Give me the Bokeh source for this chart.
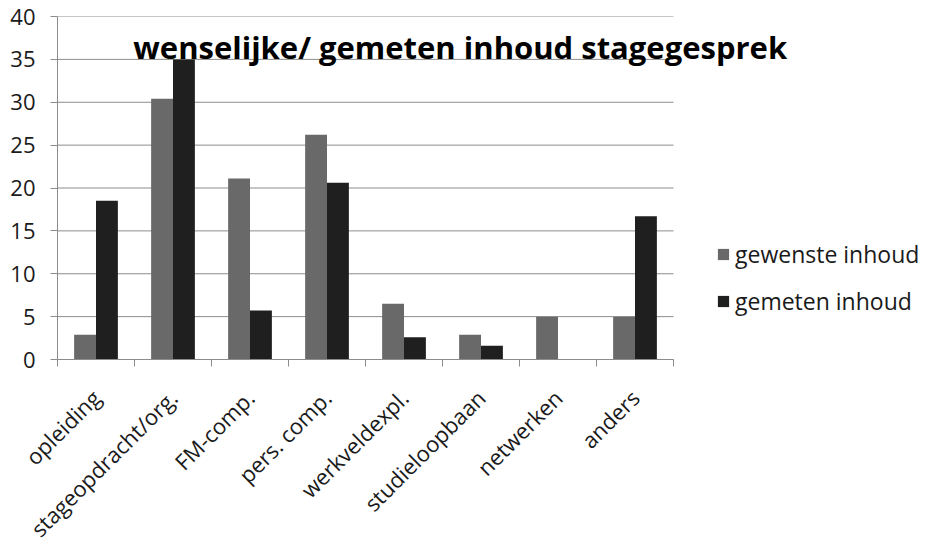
from bokeh.plotting import figure
from bokeh.models import ColumnDataSource, FixedTicker, Range1d, Label, Legend, LegendItem
from bokeh.transform import dodge
from bokeh.embed import file_html
from bokeh.resources import INLINE
import numpy as np

categories = ["opleiding", "stageopdracht/org.", "FM-comp.", "pers. comp.",
              "werkveldexpl.", "studieloopbaan", "netwerken", "anders"]
gewenste = [2.9, 30.4, 21.1, 26.2, 6.5, 2.9, 5.0, 5.0]
gemeten = [18.5, 35.0, 5.7, 20.6, 2.6, 1.6, 0.0, 16.7]
y_ticks = [0, 5, 10, 15, 20, 25, 30, 35, 40]
series_names = ["gewenste inhoud", "gemeten inhoud"]
title_text = "wenselijke/ gemeten inhoud stagegesprek"

FONT = "Open Sans"
GRAY = "#696969"
BLACK = "#1f1f1f"
LINE = "#8c8c8c"
TEXT = "#1a1a1a"

n = len(categories)
centers = list(np.arange(n) + 0.5)
src = ColumnDataSource(dict(x=centers, g=gewenste, m=gemeten))
grid_src = ColumnDataSource(dict(y=y_ticks, x0=[0] * len(y_ticks), x1=[n] * len(y_ticks)))

PLOT_W = 616      # pixels covered by the categories
FRAME_W = 868     # frame extended to the right to host the title and legend
x_end = n * FRAME_W / PLOT_W

p = figure(frame_width=FRAME_W, frame_height=343, min_border_left=57, min_border_top=16,
           min_border_right=0, min_border_bottom=178,
           x_range=Range1d(0, x_end), y_range=Range1d(0, 40),
           output_backend="svg", toolbar_location=None, tools="")
p.outline_line_color = None
p.xgrid.grid_line_color = None
p.ygrid.grid_line_color = None

# horizontal gridlines, limited to the category area
p.segment(x0="x0", x1="x1", y0="y", y1="y", source=grid_src, line_color=LINE, line_width=1)

bw = 0.284
r1 = p.vbar(x=dodge("x", -bw / 2, range=p.x_range), top="g", width=bw, source=src,
            fill_color=GRAY, line_color=None)
r2 = p.vbar(x=dodge("x", bw / 2, range=p.x_range), top="m", width=bw, source=src,
            fill_color=BLACK, line_color=None)

xa = p.xaxis[0]
xa.bounds = (0, n)
xa.ticker = FixedTicker(ticks=centers, minor_ticks=list(range(n + 1)))
xa.major_label_overrides = {c: lab for c, lab in zip(centers, categories)}
xa.major_tick_line_color = None
xa.minor_tick_line_color = LINE
xa.minor_tick_out = 7
xa.minor_tick_in = 0
xa.axis_line_color = LINE
xa.major_label_orientation = np.pi / 4
xa.major_label_text_font = FONT
xa.major_label_text_font_size = "22px"
xa.major_label_text_color = TEXT
xa.major_label_standoff = 27

ya = p.yaxis[0]
ya.ticker = FixedTicker(ticks=y_ticks)
ya.axis_line_color = LINE
ya.major_tick_line_color = LINE
ya.major_tick_out = 7
ya.major_tick_in = 0
ya.minor_tick_line_color = None
ya.major_label_text_font = FONT
ya.major_label_text_font_size = "22px"
ya.major_label_text_color = TEXT
ya.major_label_standoff = 15

title = Label(x=5.23, y=36.4, text=title_text, text_align="center",
              text_baseline="alphabetic", text_font=FONT, text_font_style="bold",
              text_font_size="31px", text_color="#000000")
p.add_layout(title)

legend = Legend(items=[LegendItem(label=series_names[0], renderers=[r1]),
                       LegendItem(label=series_names[1], renderers=[r2])],
                location=(659, 42), orientation="vertical")
legend.border_line_color = None
legend.background_fill_alpha = 0
legend.padding = 0
legend.margin = 0
legend.spacing = 15
legend.glyph_width = 14
legend.glyph_height = 14
legend.label_height = 24
legend.label_standoff = 5
legend.label_text_font = FONT
legend.label_text_font_size = "23px"
legend.label_text_color = TEXT
legend.label_text_baseline = "middle"
p.add_layout(legend, "center")

open("out.html", "w").write(file_html(p, INLINE))
